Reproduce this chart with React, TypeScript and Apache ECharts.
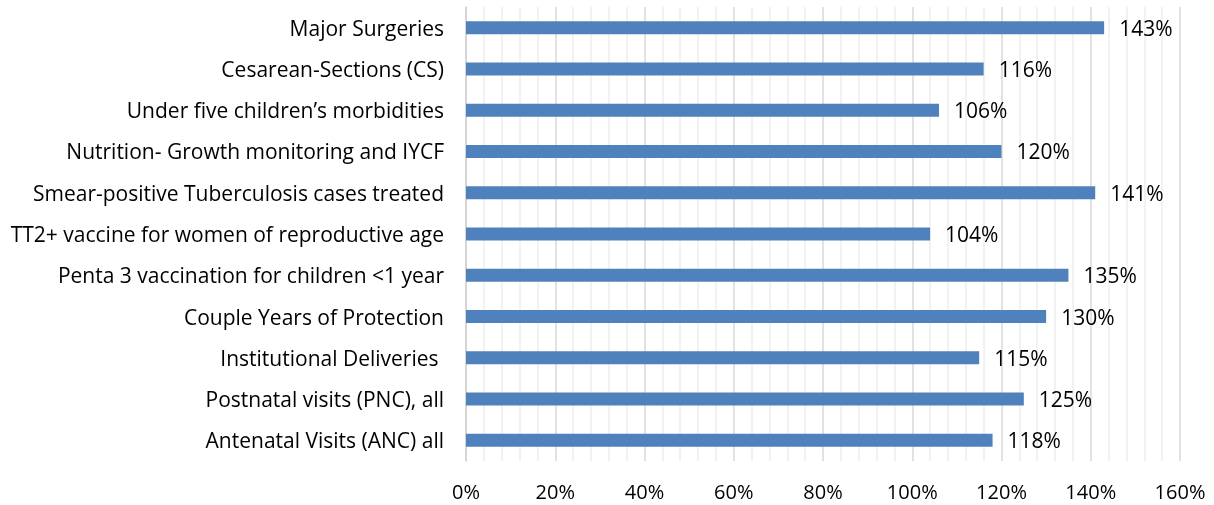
import React, { useEffect, useRef } from "react";
import * as echarts from "echarts";

const categories = [
  "Antenatal Visits (ANC) all",
  "Postnatal visits (PNC), all",
  "Institutional Deliveries ",
  "Couple Years of Protection",
  "Penta 3 vaccination for children <1 year",
  "TT2+ vaccine for women of reproductive age",
  "Smear-positive Tuberculosis cases treated",
  "Nutrition- Growth monitoring and IYCF",
  "Under five children\u2019s morbidities",
  "Cesarean-Sections (CS)",
  "Major Surgeries",
];
const values = [118, 125, 115, 130, 135, 104, 141, 120, 106, 116, 143];

export default function App() {
  const ref = useRef<HTMLDivElement>(null);
  useEffect(() => {
    const chart = echarts.init(ref.current!, null, { renderer: "svg" });
    const font = "Open Sans";
    chart.setOption({
      animation: false,
      grid: { left: 466, right: 34, top: 7, bottom: 44, containLabel: false },
      xAxis: {
        type: "value",
        min: 0,
        max: 160,
        interval: 20,
        axisLine: { show: false },
        axisTick: { show: false },
        axisLabel: {
          formatter: "{value}%",
          color: "#000",
          fontFamily: font,
          fontSize: 20,
          margin: 20,
        },
        splitLine: { show: true, lineStyle: { color: "#d9d9d9", width: 1.5 } },
        minorTick: { show: false, splitNumber: 5 },
        minorSplitLine: { show: true, lineStyle: { color: "#eeeeee", width: 1.5 } },
      },
      yAxis: {
        type: "category",
        data: categories,
        axisLine: { show: true, lineStyle: { color: "#d0d0d0", width: 1.5 } },
        axisTick: { show: false },
        axisLabel: {
          color: "#000",
          fontFamily: font,
          fontSize: 21,
          margin: 22,
        },
      },
      series: [
        {
          type: "bar",
          data: values,
          barWidth: 13,
          itemStyle: { color: "#4f81bd" },
          label: {
            show: true,
            position: "right",
            distance: 15,
            formatter: "{c}%",
            color: "#000",
            fontFamily: font,
            fontSize: 21,
          },
        },
      ],
    });
    return () => chart.dispose();
  }, []);
  return (
    <div
      ref={ref}
      style={{ position: "fixed", left: 0, top: 0, width: 1214, height: 505 }}
    />
  );
}
